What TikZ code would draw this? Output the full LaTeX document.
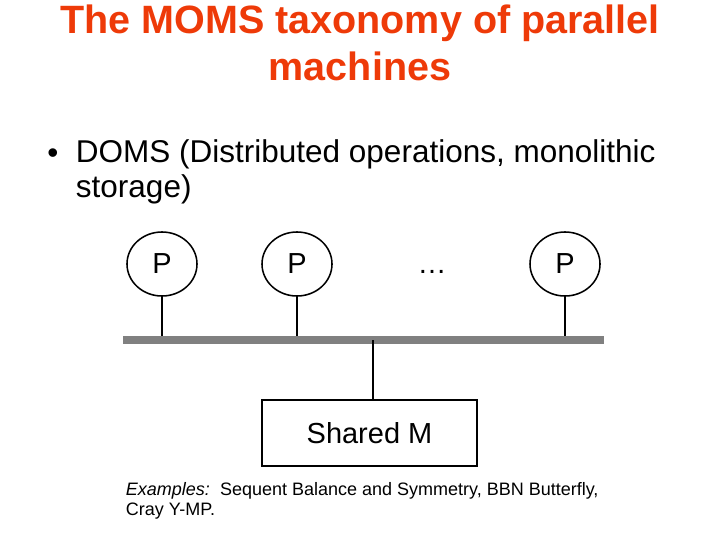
\documentclass[tikz,border=0pt]{standalone}
\usepackage{fontspec}
\setmainfont{Liberation Sans}
\usetikzlibrary{positioning, shapes.geometric}
\definecolor{TitleRed}{RGB}{238,58,8}
\definecolor{BusGray}{RGB}{128,128,128}

\begin{document}
\begin{tikzpicture}[
    x=0.025cm, y=-0.025cm,
    link/.style={line width=1.1pt, black},
    proc/.style={draw, line width=1.1pt, ellipse, inner sep=0pt,
        minimum width=1.75cm, minimum height=1.6cm,
        font=\fontsize{20.6}{24}\selectfont},
    mem/.style={draw, line width=1.4pt, inner sep=0pt,
        minimum width=5.375cm, minimum height=1.65cm,
        font=\fontsize{20.6}{24}\selectfont},
]
\useasboundingbox (0,0) rectangle (720,540);

% titulo
\node[text=TitleRed, font=\bfseries\fontsize{28.1}{33.4}\selectfont,
      align=center, anchor=base] (title) at (360,80)
    {The MOMS taxonomy of parallel\\machines};

% punto
\node[font=\fontsize{22.4}{24.5}\selectfont, anchor=base] (dot) at (53,163) {•};
\node[font=\fontsize{22.4}{24.5}\selectfont, align=left, anchor=base west] (doms) at (71,197)
    {DOMS (Distributed operations, monolithic\\storage)};

% procesadores
\node[proc] (p1) at (162,264) {P};
\node[proc] (p2) at (297,264) {P};
\node[font=\fontsize{20.6}{24}\selectfont, anchor=base] (dots) at (432,273) {…};
\node[proc] (p3) at (565,264) {P};

% bus y memoria
\node[fill=BusGray, inner sep=0pt, minimum width=12.03cm, minimum height=0.2cm] (bus) at (363.5,340) {};
\node[mem] (mem) at (369.5,433) {Shared M};
\coordinate (tap) at (373,340);

% conexiones
\draw[link] (p1.south) -- (p1.south |- bus.north);
\draw[link] (p2.south) -- (p2.south |- bus.north);
\draw[link] (p3.south) -- (p3.south |- bus.north);
\draw[link] (tap) -- (tap |- mem.north);

% ejemplos
\node[font=\fontsize{12.8}{14.2}\selectfont, align=left, anchor=base west] (ex) at (121,515)
    {\textit{Examples:}\ \ Sequent Balance and Symmetry, BBN Butterfly,\\Cray Y-MP.};

\end{tikzpicture}
\end{document}
